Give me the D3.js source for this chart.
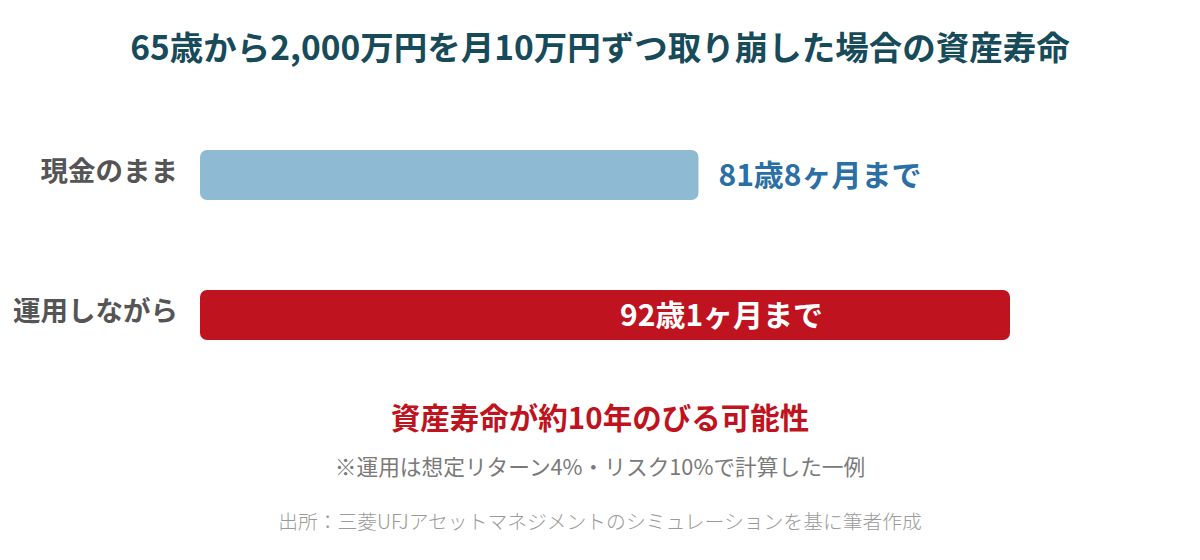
<!DOCTYPE html>
<html>
<head>
<meta charset="utf-8">
<script src="https://cdn.jsdelivr.net/npm/d3@7"></script>
<style>
  body { margin: 0; background: #fff; }
  text { font-family: "Noto Sans CJK JP", "Noto Sans", sans-serif; }
</style>
</head>
<body>
<div id="chart"></div>
<script>
// data: years of asset life after 65
var categories = ["現金のまま", "運用しながら"];
var yearsLeft = [81 + 8 / 12 - 65, 92 + 1 / 12 - 65];
var endLabels = ["81歳8ヶ月まで", "92歳1ヶ月まで"];

var width = 1200,
    height = 560;

var svg = d3.select("#chart").append("svg")
    .attr("width", width)
    .attr("height", height);

var x = d3.scaleLinear()
    .domain([0, d3.max(yearsLeft)])
    .range([200, 1010]);

// two rows, 50px bars, 140px apart
var y = d3.scaleBand()
    .domain(categories)
    .range([150, 340])
    .paddingInner(90 / 140)
    .paddingOuter(0);

var barColors = ["#8fbad4", "#bf1320"];

// title
svg.append("text")
    .attr("x", 600)
    .attr("y", 60)
    .attr("text-anchor", "middle")
    .attr("font-size", 33.5)
    .attr("font-weight", 700)
    .attr("fill", "#184b5a")
    .text("65歳から2,000万円を月10万円ずつ取り崩した場合の資産寿命");

// bars
svg.selectAll("rect.bar")
    .data(categories)
    .enter().append("rect")
    .attr("class", "bar")
    .attr("x", x(0))
    .attr("y", function(d) { return y(d); })
    .attr("width", function(d, i) { return x(yearsLeft[i]) - x(0); })
    .attr("height", y.bandwidth())
    .attr("rx", 7)
    .attr("fill", function(d, i) { return barColors[i]; });

// category labels
svg.selectAll("text.cat")
    .data(categories)
    .enter().append("text")
    .attr("class", "cat")
    .attr("x", 178)
    .attr("y", function(d) { return y(d) + y.bandwidth() / 2 - 4; })
    .attr("dy", "0.35em")
    .attr("text-anchor", "end")
    .attr("font-size", 27.5)
    .attr("font-weight", 700)
    .attr("fill", "#555")
    .text(function(d) { return d; });

// end labels: outside for the short bar, inside for the long one
svg.selectAll("text.end")
    .data(categories)
    .enter().append("text")
    .attr("class", "end")
    .attr("x", function(d, i) { return i === 0 ? x(yearsLeft[i]) + 20 : x(yearsLeft[i]) - 390; })
    .attr("y", function(d) { return y(d) + y.bandwidth() / 2; })
    .attr("dy", "0.35em")
    .attr("font-size", 30)
    .attr("font-weight", 700)
    .attr("fill", function(d, i) { return i === 0 ? "#2a6fa5" : "#fff"; })
    .text(function(d, i) { return endLabels[i]; });

// conclusion
svg.append("text")
    .attr("x", 600)
    .attr("y", 429)
    .attr("text-anchor", "middle")
    .attr("font-size", 29.5)
    .attr("font-weight", 700)
    .attr("fill", "#bf1320")
    .text("資産寿命が約10年のびる可能性");

svg.append("text")
    .attr("x", 600)
    .attr("y", 475)
    .attr("text-anchor", "middle")
    .attr("font-size", 21.7)
    .attr("fill", "#7a7a7a")
    .text("※運用は想定リターン4%・リスク10%で計算した一例");

svg.append("text")
    .attr("x", 600)
    .attr("y", 529)
    .attr("text-anchor", "middle")
    .attr("font-size", 19.8)
    .attr("font-weight", 300)
    .attr("fill", "#9a9a9a")
    .text("出所：三菱UFJアセットマネジメントのシミュレーションを基に筆者作成");
</script>
</body>
</html>
